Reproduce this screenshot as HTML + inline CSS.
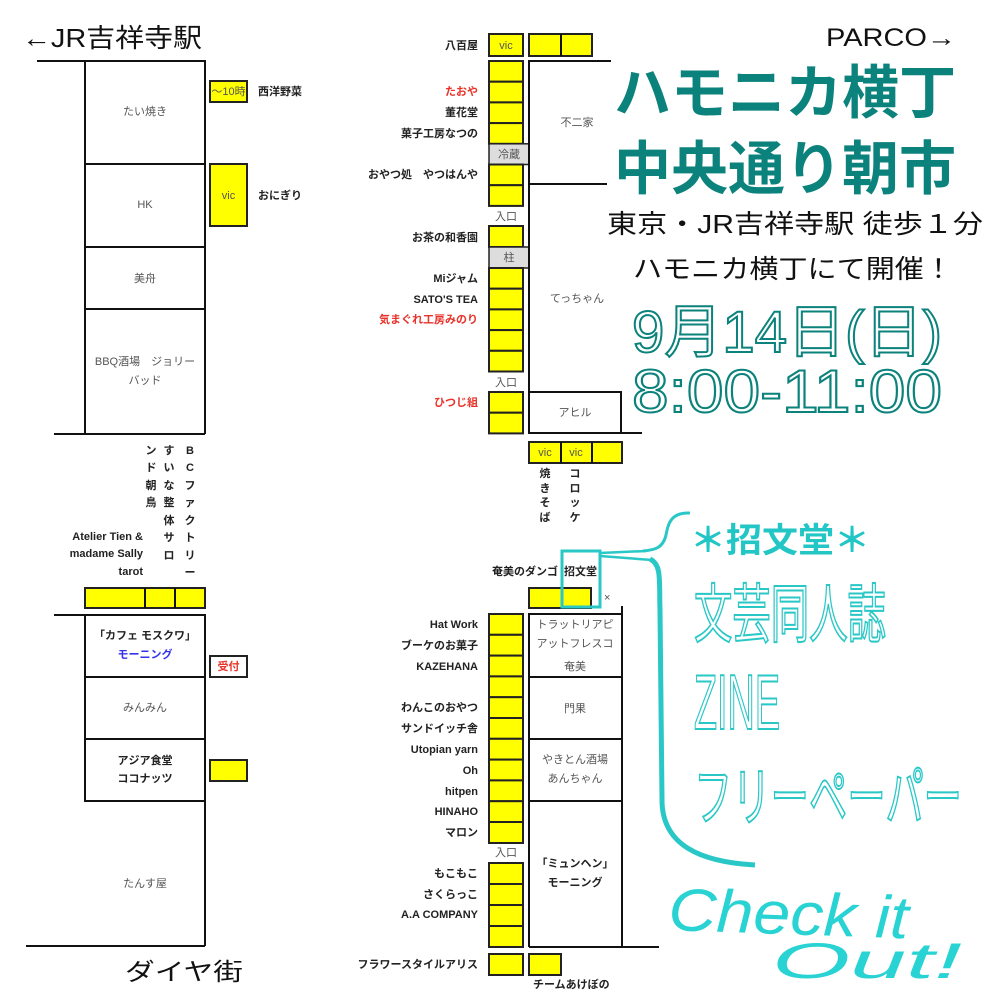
<!DOCTYPE html>
<html><head><meta charset="utf-8"><style>
html,body{margin:0;padding:0;background:#fff;}
svg{display:block;}
.l{font-family:"Liberation Sans","Noto Sans CJK JP",sans-serif;font-weight:bold;font-size:11px;fill:#222;}
.r{fill:#e8332a;}
.b{font-family:"Liberation Sans","Noto Sans CJK JP",sans-serif;font-size:11px;fill:#555;}
.y{fill:#ffff00;stroke:#222;stroke-width:2;}
.g{fill:#ddd;stroke:#222;stroke-width:1.5;}
.ln{stroke:#111;stroke-width:2;fill:none;}
.j{font-family:"Liberation Sans","Noto Sans CJK JP",sans-serif;}
</style></head><body>
<svg width="1000" height="1000" viewBox="0 0 1000 1000" xmlns="http://www.w3.org/2000/svg">
<!-- LEFT TOP -->
<text x="22" y="47" class="j" font-size="26" fill="#111" textLength="180" lengthAdjust="spacingAndGlyphs">←JR吉祥寺駅</text>
<path class="ln" d="M37 61H205V434M85 61V434M85 164H205M85 247H205M85 309H205M54 434H205"/>
<text x="145" y="115" class="b" text-anchor="middle">たい焼き</text>
<text x="145" y="208" class="b" text-anchor="middle">HK</text>
<text x="145" y="282" class="b" text-anchor="middle">美舟</text>
<text x="145" y="365" class="b" text-anchor="middle">BBQ酒場　ジョリー</text>
<text x="145" y="384" class="b" text-anchor="middle">バッド</text>
<rect class="y" x="210" y="81" width="37" height="21"/>
<text x="228.5" y="95" class="b" font-size="9" fill="#333" text-anchor="middle">～10時</text>
<text x="258" y="95" class="l">西洋野菜</text>
<rect class="y" x="210" y="164" width="37" height="62"/>
<text x="228.5" y="199" class="b" fill="#333" text-anchor="middle">vic</text>
<text x="258" y="199" class="l">おにぎり</text>

<!-- LEFT vertical labels -->
<g class="l" font-size="10" text-anchor="middle">
<text x="151" y="454">ン</text><text x="151" y="471">ド</text><text x="151" y="489">朝</text><text x="151" y="506">鳥</text>
<text x="169" y="454">す</text><text x="169" y="471">い</text><text x="169" y="489">な</text><text x="169" y="506">整</text><text x="169" y="524">体</text><text x="169" y="541">サ</text><text x="169" y="559">ロ</text>
<text x="190" y="454">B</text><text x="190" y="471">C</text><text x="190" y="489">フ</text><text x="190" y="506">ァ</text><text x="190" y="524">ク</text><text x="190" y="541">ト</text><text x="190" y="559">リ</text><text x="190" y="576">ー</text>
</g>
<text x="143" y="540" class="l" text-anchor="end">Atelier Tien &amp;</text>
<text x="143" y="557" class="l" text-anchor="end">madame Sally</text>
<text x="143" y="575" class="l" text-anchor="end">tarot</text>
<rect class="y" x="85" y="588" width="120" height="20"/>
<path class="ln" d="M145 588V608M175 588V608"/>
<path class="ln" d="M54 615H205V946M85 615V801H205M85 677H205M85 739H205M26 946H205"/>
<text x="145" y="639" class="l" text-anchor="middle">「カフェ モスクワ」</text>
<text x="145" y="658" class="l" style="fill:#3333ee" text-anchor="middle">モーニング</text>
<text x="145" y="711" class="b" text-anchor="middle">みんみん</text>
<text x="145" y="764" class="l" text-anchor="middle">アジア食堂</text>
<text x="145" y="782" class="l" text-anchor="middle">ココナッツ</text>
<text x="145" y="887" class="b" text-anchor="middle">たんす屋</text>
<rect x="210" y="656" width="37" height="21" fill="#fff" stroke="#222" stroke-width="2"/>
<text x="228.5" y="670" class="l r" text-anchor="middle">受付</text>
<rect class="y" x="210" y="760" width="37" height="21"/>
<text x="125" y="980" class="j" font-size="24" fill="#111" textLength="118" lengthAdjust="spacingAndGlyphs">ダイヤ街</text>

<!-- MIDDLE TOP -->
<rect class="y" x="489" y="34" width="34" height="22"/>
<text x="506" y="49" class="b" fill="#333" text-anchor="middle">vic</text>
<text x="478" y="49" class="l" text-anchor="end">八百屋</text>
<rect class="y" x="529" y="34" width="63" height="22"/><path class="ln" d="M561 34V56"/>
<g>
<rect class="y" x="489" y="61" width="34" height="20.7"/>
<rect class="y" x="489" y="81.7" width="34" height="20.7"/>
<rect class="y" x="489" y="102.4" width="34" height="20.7"/>
<rect class="y" x="489" y="123.1" width="34" height="20.7"/>
<rect class="g" x="489" y="143.8" width="40" height="20.7"/>
<rect class="y" x="489" y="164.5" width="34" height="20.7"/>
<rect class="y" x="489" y="185.2" width="34" height="20.7"/>
<rect class="y" x="489" y="226" width="34" height="21"/>
<rect class="g" x="489" y="247" width="40" height="21"/>
<rect class="y" x="489" y="268" width="34" height="20.7"/>
<rect class="y" x="489" y="288.7" width="34" height="20.7"/>
<rect class="y" x="489" y="309.4" width="34" height="20.7"/>
<rect class="y" x="489" y="330.1" width="34" height="20.7"/>
<rect class="y" x="489" y="350.8" width="34" height="20.7"/>
<rect class="y" x="489" y="392" width="34" height="20.7"/>
<rect class="y" x="489" y="412.7" width="34" height="20.7"/>
</g>
<text x="509" y="158" class="b" text-anchor="middle">冷蔵</text>
<text x="509" y="261" class="b" text-anchor="middle">柱</text>
<text x="506" y="220" class="b" fill="#333" text-anchor="middle">入口</text>
<text x="506" y="386" class="b" fill="#333" text-anchor="middle">入口</text>
<path class="ln" d="M611 61H529V433H642M529 184H607M529 392H621V433"/>
<text x="577" y="126" class="b" text-anchor="middle">不二家</text>
<text x="577" y="302" class="b" text-anchor="middle">てっちゃん</text>
<text x="575" y="416" class="b" text-anchor="middle">アヒル</text>
<g class="l" text-anchor="end">
<text x="478" y="95" class="l r">たおや</text>
<text x="478" y="116">董花堂</text>
<text x="478" y="137">菓子工房なつの</text>
<text x="478" y="178">おやつ処　やつはんや</text>
<text x="478" y="241">お茶の和香園</text>
<text x="478" y="282">Miジャム</text>
<text x="478" y="303">SATO'S TEA</text>
<text x="478" y="323" class="l r">気まぐれ工房みのり</text>
<text x="478" y="406" class="l r">ひつじ組</text>
</g>
<rect class="y" x="529" y="442" width="93" height="21"/><path class="ln" d="M561 442V463M592 442V463"/>
<text x="545" y="456" class="b" fill="#333" text-anchor="middle">vic</text>
<text x="576" y="456" class="b" fill="#333" text-anchor="middle">vic</text>
<g class="l" font-size="9" text-anchor="middle">
<text x="545" y="477">焼</text><text x="545" y="492">き</text><text x="545" y="506">そ</text><text x="545" y="521">ば</text>
<text x="575" y="477">コ</text><text x="575" y="492">ロ</text><text x="575" y="506">ッ</text><text x="575" y="521">ケ</text>
</g>

<!-- MIDDLE BOTTOM -->
<text x="558" y="575" class="l" text-anchor="end">奄美のダンゴ</text>
<text x="564" y="575" class="l">招文堂</text>
<rect class="y" x="529" y="588" width="62" height="20"/>
<rect x="562" y="551" width="38" height="56" fill="none" stroke="#2ac7c7" stroke-width="3"/>
<text x="604" y="601" class="b" font-size="10">×</text>
<g>
<rect class="y" x="489" y="614" width="34" height="20.8"/>
<rect class="y" x="489" y="634.8" width="34" height="20.8"/>
<rect class="y" x="489" y="655.6" width="34" height="20.8"/>
<rect class="y" x="489" y="676.4" width="34" height="20.8"/>
<rect class="y" x="489" y="697.2" width="34" height="20.8"/>
<rect class="y" x="489" y="718" width="34" height="20.8"/>
<rect class="y" x="489" y="738.8" width="34" height="20.8"/>
<rect class="y" x="489" y="759.6" width="34" height="20.8"/>
<rect class="y" x="489" y="780.4" width="34" height="20.8"/>
<rect class="y" x="489" y="801.2" width="34" height="20.8"/>
<rect class="y" x="489" y="822" width="34" height="21"/>
<rect class="y" x="489" y="863" width="34" height="21"/>
<rect class="y" x="489" y="884" width="34" height="21"/>
<rect class="y" x="489" y="905" width="34" height="21"/>
<rect class="y" x="489" y="926" width="34" height="21"/>
<rect class="y" x="489" y="954" width="34" height="21"/>
<rect class="y" x="529" y="954" width="32" height="21"/>
</g>
<text x="506" y="856" class="b" fill="#333" text-anchor="middle">入口</text>
<path class="ln" d="M529 947V614H622M622 606V947M529 677H622M529 739H622M529 801H622M529 947H659"/>
<g class="b" text-anchor="middle">
<text x="575" y="628">トラットリアピ</text>
<text x="575" y="647">アットフレスコ</text>
<text x="575" y="670">奄美</text>
<text x="575" y="712">門果</text>
<text x="575" y="763">やきとん酒場</text>
<text x="575" y="782">あんちゃん</text>
</g>
<text x="575" y="867" class="l" text-anchor="middle">「ミュンヘン」</text>
<text x="575" y="886" class="l" text-anchor="middle">モーニング</text>
<g class="l" text-anchor="end">
<text x="478" y="628">Hat Work</text>
<text x="478" y="649">ブーケのお菓子</text>
<text x="478" y="670">KAZEHANA</text>
<text x="478" y="711">わんこのおやつ</text>
<text x="478" y="732">サンドイッチ舎</text>
<text x="478" y="753">Utopian yarn</text>
<text x="478" y="774">Oh</text>
<text x="478" y="795">hitpen</text>
<text x="478" y="815">HINAHO</text>
<text x="478" y="836">マロン</text>
<text x="478" y="877">もこもこ</text>
<text x="478" y="898">さくらっこ</text>
<text x="478" y="918">A.A COMPANY</text>
<text x="478" y="968">フラワースタイルアリス</text>
</g>
<text x="533" y="988" class="l">チームあけぼの</text>

<!-- RIGHT -->
<text x="826" y="46" class="j" font-size="25" fill="#111" textLength="130" lengthAdjust="spacingAndGlyphs">PARCO→</text>
<text x="614" y="113" class="j" font-size="58" font-weight="bold" fill="#0b827b" textLength="342" lengthAdjust="spacingAndGlyphs">ハモニカ横丁</text>
<text x="614" y="189" class="j" font-size="58" font-weight="bold" fill="#0b827b" textLength="342" lengthAdjust="spacingAndGlyphs">中央通り朝市</text>
<text x="607" y="233" class="j" font-size="26" fill="#111" textLength="376" lengthAdjust="spacingAndGlyphs">東京・JR吉祥寺駅 徒歩１分</text>
<text x="633" y="278" class="j" font-size="26" fill="#111" textLength="320" lengthAdjust="spacingAndGlyphs">ハモニカ横丁にて開催！</text>
<text x="632" y="352" class="j" font-size="58" fill="#fff" stroke="#0b827b" stroke-width="2" textLength="310" lengthAdjust="spacingAndGlyphs">9月14日(日)</text>
<text x="632" y="412" class="j" font-size="60" fill="#fff" stroke="#0b827b" stroke-width="2" textLength="310" lengthAdjust="spacingAndGlyphs">8:00-11:00</text>

<!-- bracket -->
<path d="M600 553 L646 551 M600 556 L652 560" stroke="#2ac7c7" stroke-width="2.5" fill="none"/>
<path d="M690 513 C670 512 668 525 666 535 C663 548 655 550 643 551" stroke="#2ac7c7" stroke-width="3" fill="none"/>
<path d="M650 559 C662 565 659 580 660 610 L662 800 C662 845 700 862 755 865" stroke="#2ac7c7" stroke-width="5" fill="none"/>
<text x="690" y="552" class="j" font-size="34" font-weight="bold" fill="#22c6c4" textLength="180" lengthAdjust="spacingAndGlyphs">＊招文堂＊</text>
<text x="694" y="637" class="j" font-size="64" fill="#fff" stroke="#2ac7c7" stroke-width="2" textLength="192" lengthAdjust="spacingAndGlyphs">文芸同人誌</text>
<text x="694" y="729" class="j" font-size="78" fill="#fff" stroke="#2ac7c7" stroke-width="2" textLength="86" lengthAdjust="spacingAndGlyphs">ZINE</text>
<text x="694" y="820" class="j" font-size="64" fill="#fff" stroke="#2ac7c7" stroke-width="2" textLength="268" lengthAdjust="spacingAndGlyphs">フリーペーパー</text>
<text x="668" y="930" font-family="'Liberation Sans',sans-serif" font-style="italic" font-size="60" fill="#2ad3d3" textLength="240" lengthAdjust="spacingAndGlyphs" transform="rotate(2 668 928)">Check it</text>
<text x="772" y="978" font-family="'Liberation Sans',sans-serif" font-style="italic" font-size="50" fill="#2ad3d3" textLength="190" lengthAdjust="spacingAndGlyphs">Out!</text>
</svg>
</body></html>
